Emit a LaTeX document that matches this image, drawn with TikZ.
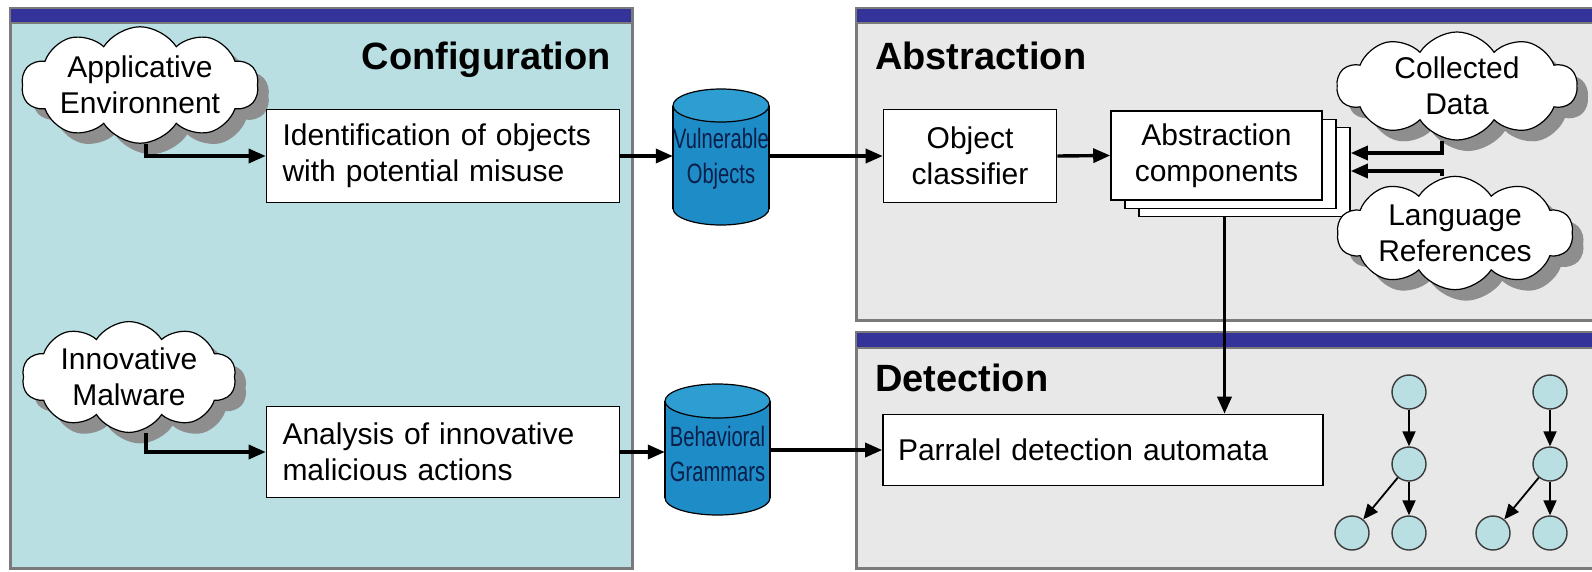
\documentclass[tikz,border=0pt]{standalone}
\usepackage{fontspec}
\setmainfont{Liberation Sans}
\newfontfamily\narrowfont[FakeStretch=0.72]{Liberation Sans}
\usetikzlibrary{shapes.symbols,shadows,arrows.meta}

\definecolor{cfgfill}{HTML}{B9DFE2}
\definecolor{grayfill}{HTML}{E8E8E8}
\definecolor{panelline}{HTML}{7A7A7A}
\definecolor{barblue}{HTML}{333399}
\definecolor{cylbody}{HTML}{1E8CC6}
\definecolor{cyltop}{HTML}{2E9DD2}
\definecolor{cyltext}{HTML}{0A1F4A}
\definecolor{shadowgray}{HTML}{8E8E8E}
\definecolor{nodeline}{HTML}{3A3A3A}

\tikzset{
  panel/.style={draw=panelline, line width=3pt},
  bar/.style={fill=barblue, draw=panelline, line width=1.5pt},
  title/.style={font=\fontsize{38}{42}\selectfont\bfseries, inner sep=0pt},
  txt/.style={font=\fontsize{30}{36}\selectfont},
  box/.style={txt, draw=black, line width=1.6pt, fill=white, inner sep=0pt},
  cloudnode/.style={txt, cloud, cloud puffs=10, cloud puff arc=115, cloud ignores aspect,
    draw=black, line width=1.2pt, fill=white, align=center, inner sep=0pt,
    drop shadow={shadow xshift=11pt, shadow yshift=-11pt, fill=shadowgray, opacity=1}},
  storetext/.style={font=\narrowfont\fontsize{28}{35}\selectfont, text=cyltext, align=center, inner sep=0pt},
  cylbodystyle/.style={fill=cylbody},
  cylline/.style={draw=black, line width=1.2pt},
  state/.style={circle, minimum size=34pt, inner sep=0pt, fill=cfgfill, draw=nodeline, line width=1.4pt},
  arr/.style={line width=3.4pt, -{Triangle[length=17pt,width=14pt]}},
  tarr/.style={line width=1.8pt, -{Triangle[length=15pt,width=13pt]}},
}

\begin{document}
\begin{tikzpicture}[x=1pt, y=-1pt]
\useasboundingbox (0,0) rectangle (1592,571);
\clip (0,0) rectangle (1592,571);
\fill[white] (0,0) rectangle (1592,571);

% swimlane panels
\filldraw[panel, fill=cfgfill] (10,8) rectangle (632,568);
\filldraw[bar] (10,8) rectangle (632,23);
\filldraw[panel, fill=grayfill] (856,8) rectangle (1610,320);
\filldraw[bar] (856,8) rectangle (1610,23);
\filldraw[panel, fill=grayfill] (856,332) rectangle (1610,568);
\filldraw[bar] (856,332) rectangle (1610,348);

\node[title, anchor=base east] (tcfg) at (611,69) {Configuration};
\node[title, anchor=base west] (tabs) at (875,69) {Abstraction};
\node[title, anchor=base west] (tdet) at (875,391) {Detection};

% configuration lane
\node[cloudnode, minimum width=237pt, minimum height=98pt] (app) at (140,85) {Applicative\\Environnent};
\node[box, minimum width=353pt, minimum height=93pt, text width=321pt, align=left, inner xsep=16pt]
  (ident) at (443,156) {Identification of objects\\with potential misuse};
\node[cloudnode, minimum width=214pt, minimum height=99pt] (innov) at (129,377) {Innovative\\Malware};
\node[box, minimum width=353pt, minimum height=91pt, text width=321pt, align=left, inner xsep=16pt]
  (anal) at (443,452) {Analysis of innovative\\malicious actions};

% data stores: cylinders (x 673..769, y 89..225) and (x 665..770, y 384..515)
\fill[cylbodystyle] (721,208.5) ellipse [x radius=48pt, y radius=16.5pt];
\draw[cylline] (721,208.5) ellipse [x radius=48pt, y radius=16.5pt];
\fill[cylbodystyle] (673,105.5) rectangle (769,208.5);
\draw[cylline] (673,105.5) -- (673,208.5) (769,105.5) -- (769,208.5);
\filldraw[cylline, fill=cyltop] (721,105.5) ellipse [x radius=48pt, y radius=16.5pt];

\fill[cylbodystyle] (717.5,498) ellipse [x radius=52.5pt, y radius=17pt];
\draw[cylline] (717.5,498) ellipse [x radius=52.5pt, y radius=17pt];
\fill[cylbodystyle] (665,401) rectangle (770,498);
\draw[cylline] (665,401) -- (665,498) (770,401) -- (770,498);
\filldraw[cylline, fill=cyltop] (717.5,401) ellipse [x radius=52.5pt, y radius=17pt];

\node[storetext, minimum width=96pt, minimum height=136pt] (vuln) at (721,159) {Vulnerable\\Objects};
\node[storetext, minimum width=105pt, minimum height=131pt] (behav) at (717.5,454) {Behavioral\\Grammars};

% abstraction lane
\node[box, minimum width=173pt, minimum height=93pt, align=center] (cls) at (970,156) {Object\\classifier};
\node[box, minimum width=211pt, minimum height=89pt] (stack3) at (1244.5,172) {};
\node[box, minimum width=211pt, minimum height=89pt] (stack2) at (1230.5,164) {};
\node[box, minimum width=211pt, minimum height=89pt, align=center] (abs) at (1216.5,155.5) {Abstraction\\components};
\node[cloudnode, minimum width=240pt, minimum height=95pt] (coll) at (1457,86) {Collected\\Data};
\node[cloudnode, minimum width=236pt, minimum height=113pt] (lang) at (1455,233) {Language\\References};

% detection lane
\node[box, minimum width=440pt, minimum height=71pt, text width=410pt, align=left, inner xsep=15pt]
  (par) at (1103,450) {Parralel detection automata};

\node[state] (a1) at (1409,392) {};
\node[state] (a2) at (1409,464) {};
\node[state] (a3) at (1352,533) {};
\node[state] (a4) at (1409,533) {};
\node[state] (b1) at (1550,392) {};
\node[state] (b2) at (1550,464) {};
\node[state] (b3) at (1493,533) {};
\node[state] (b4) at (1550,533) {};

% flows
\draw[arr] ([xshift=6pt]app.south) |- (ident.west);
\draw[arr] (ident.east) -- (ident.east -| vuln.west);
\draw[arr] (vuln.east |- cls.west) -- (cls.west);
\draw[arr] (cls.east) -- (abs.west);
\draw[arr] ([xshift=-15pt]coll.south) |- ([yshift=19pt]stack3.east);
\draw[arr] ([xshift=-13pt]lang.north) |- ([yshift=1pt]stack3.east);
\draw[arr] ([xshift=-20pt]stack3.south) -- ([xshift=-20pt]stack3.south |- par.north);

\draw[arr] ([xshift=17pt]innov.south) |- (anal.west);
\draw[arr] (anal.east) -- (anal.east -| behav.west);
\draw[arr] (behav.east |- par.west) -- (par.west);

\draw[tarr] (a1) -- (a2);
\draw[tarr] (a2) -- (a3);
\draw[tarr] (a2) -- (a4);
\draw[tarr] (b1) -- (b2);
\draw[tarr] (b2) -- (b3);
\draw[tarr] (b2) -- (b4);
\end{tikzpicture}
\end{document}
